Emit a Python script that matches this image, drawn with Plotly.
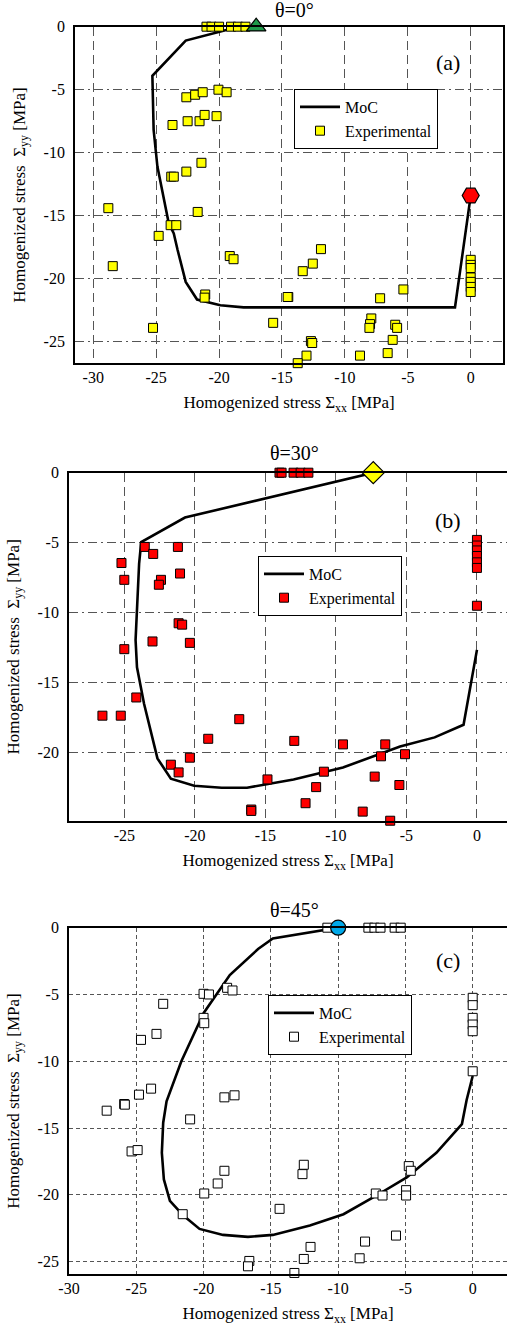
import plotly.graph_objects as go

W, H = 507, 1332

# ---------------- Panel (a) theta = 0 ----------------
a_moc_x = [-17.1, -19.2, -22.65, -25.3, -25.2, -24.9, -24.0, -23.6, -23.3, -22.65, -21.75, -19.9, -18.05, -1.25, 0.0]
a_moc_y = [0.0, -0.2, -1.1, -3.9, -8.2, -11.1, -15.6, -16.4, -17.7, -20.25, -21.65, -22.1, -22.27, -22.27, -13.4]
a_exp_x = [-21.0, -20.6, -20.0, -19.05, -18.5, -17.9,
           -22.6, -21.9, -21.3, -20.05, -19.4,
           -23.7, -22.5, -21.55, -21.15, -20.2,
           -23.8, -23.6, -22.6, -21.4,
           -28.8, -21.7, -23.85, -23.4,
           -24.8, -28.45, -19.15, -18.85,
           -11.9, -12.55, -13.35,
           -21.1, -21.15, -14.5, -14.55,
           -15.7, -7.2, -5.35,
           -7.9, -8.0, -8.05, -6.0, -5.85,
           -6.2, -6.6, -8.8,
           -12.7, -12.6, -13.05, -13.75, -25.25,
           0.0, 0.0, 0.0, 0.0, 0.0, 0.0, 0.0]
a_exp_y = [0.0, 0.0, 0.0, 0.0, 0.0, 0.0,
           -5.6, -5.4, -5.2, -5.0, -5.2,
           -7.8, -7.5, -7.5, -7.0, -7.1,
           -11.9, -11.9, -11.5, -10.8,
           -14.4, -14.7, -15.75, -15.75,
           -16.6, -19.0, -18.2, -18.45,
           -17.65, -18.8, -19.4,
           -21.25, -21.5, -21.45, -21.45,
           -23.5, -21.55, -20.85,
           -23.15, -23.6, -23.9, -23.65, -23.9,
           -24.85, -25.9, -26.1,
           -24.95, -25.1, -26.1, -26.7, -23.9,
           -18.5, -18.9, -19.15, -19.9, -20.25, -20.65, -21.05]
a_start = (-17.05, 0.0)
a_end = (0.0, -13.4)

# ---------------- Panel (b) theta = 30 ----------------
b_moc_x = [-7.33, -20.7, -23.8, -23.95, -24.2, -24.1, -23.6, -22.65, -21.7, -20.05, -18.1, -16.3, -13.0, -9.5, -5.45, -3.0, -0.95, -0.5, 0.0]
b_moc_y = [0.0, -3.2, -4.95, -6.5, -11.95, -13.9, -16.5, -20.4, -21.85, -22.35, -22.5, -22.5, -21.9, -21.05, -19.55, -18.9, -18.0, -15.5, -12.65]
b_exp_x = [-14.0, -13.85, -13.0, -12.5, -11.95,
           -23.55, -22.95, -21.2, -25.2, -25.0,
           -22.4, -22.55, -21.05, -21.15, -20.9,
           -23.0, -20.35, -25.0,
           -24.15, -26.55, -25.25, -16.85, -19.05,
           -12.95, -9.5, -6.5, -6.8, -5.1,
           -20.35, -21.7, -21.15, -10.85, -14.85,
           -7.25, -11.4, -5.5, -12.15, -16.0,
           -16.0, -8.1, -6.15,
           0.0, 0.0, 0.0, 0.0, 0.0, 0.0, 0.0]
b_exp_y = [0.0, 0.0, 0.0, 0.0, 0.0,
           -5.3, -5.8, -5.3, -6.45, -7.65,
           -7.65, -8.0, -7.2, -10.75, -10.85,
           -12.05, -12.15, -12.6,
           -16.05, -17.35, -17.35, -17.6, -19.0,
           -19.15, -19.4, -19.4, -20.25, -20.1,
           -20.35, -20.85, -21.4, -21.35, -21.9,
           -21.7, -22.45, -22.3, -23.6, -24.05,
           -24.15, -24.2, -24.85,
           -4.8, -5.2, -5.55, -5.95, -6.4, -6.8, -9.5]
b_start = (-7.35, 0.0)

# ---------------- Panel (c) theta = 45 ----------------
c_moc_x = [-10.0, -14.85, -15.95, -18.05, -20.0, -21.65, -22.75, -23.0, -23.1, -22.95, -22.5, -21.5, -20.3, -18.55, -16.7, -14.85, -12.1, -9.6, -7.4, -4.9, -2.7, -0.8, -0.45, 0.0]
c_moc_y = [0.0, -0.8, -1.6, -3.55, -6.4, -10.0, -13.0, -14.6, -16.85, -18.85, -20.45, -21.55, -22.55, -23.0, -23.15, -23.0, -22.3, -21.45, -20.2, -18.7, -16.85, -14.7, -12.9, -11.1]
c_exp_x = [-10.8, -7.75, -7.3, -6.85, -5.8, -5.35,
           -23.0, -20.0, -19.6, -18.25, -17.85,
           -20.0, -19.95, -24.65, -23.5,
           -24.8, -23.9, -25.9, -25.85, -27.2,
           -21.0, -18.45, -17.7,
           -25.35, -24.9, -18.45, -18.95, -19.95,
           -21.55, -12.55, -12.65, -14.35,
           -7.2, -6.7, -4.95, -4.95, -4.75, -4.6,
           -5.7, -8.0, -8.4, -12.05, -12.55,
           -13.25, -16.6, -16.7,
           0.0, 0.0, 0.0, 0.0, 0.0, 0.0]
c_exp_y = [0.0, 0.0, 0.0, 0.0, 0.0, 0.0,
           -5.7, -4.95, -5.0, -4.5, -4.7,
           -6.75, -7.15, -8.4, -7.95,
           -12.5, -12.05, -13.2, -13.25, -13.7,
           -14.35, -12.7, -12.55,
           -16.75, -16.65, -18.2, -19.15, -19.9,
           -21.45, -17.75, -18.45, -21.05,
           -19.9, -20.05, -19.65, -20.05, -17.85, -18.2,
           -23.05, -23.5, -24.75, -23.9, -24.8,
           -25.85, -24.95, -25.35,
           -5.25, -5.8, -6.75, -7.25, -7.75, -10.75]
c_start = (-10.0, 0.0)

x_ticks = [-30, -25, -20, -15, -10, -5, 0]
y_ticks = [0, -5, -10, -15, -20, -25]
titles = ["θ=0°", "θ=30°", "θ=45°"]
labels = ["(a)", "(b)", "(c)"]
xtitle = "Homogenized stress Σ<sub>xx</sub> [MPa]"
ytitle = "Homogenized stress&nbsp; Σ<sub>yy</sub> [MPa]"

FONT = "Liberation Serif, Times New Roman, Times, DejaVu Serif, serif"


def px(x):
    return x / W


def py(y):
    return 1 - y / H


fig = go.Figure()

# panel geometry in pixels: (left, right, top, bottom)
geo = [(75, 503.3, 26.7, 363.3), (69, 507, 472.7, 821.0), (69, 507, 927.7, 1274.3)]
xr = [[-31.45, 2.59], [-28.92, 2.13], [-30.0, 2.55]]
yr = [[-26.71, 0.0], [-24.87, 0.0], [-25.95, 0.0]]
xdash = ["9px,5px", "9px,5px", "4px,3px"]
ydash = ["9px,4px,2px,4px", "9px,4px,2px,4px", "4px,3px"]
ymirror = [True, False, False]

panels = [
    (a_moc_x, a_moc_y, a_exp_x, a_exp_y, "#ffff00"),
    (b_moc_x, b_moc_y, b_exp_x, b_exp_y, "#ff0000"),
    (c_moc_x, c_moc_y, c_exp_x, c_exp_y, "#ffffff"),
]
legend_pos = [(294, 89), (258, 556), (268, 995)]
legend_names = ["legend", "legend2", "legend3"]

for i, (mx, my, ex, ey, col) in enumerate(panels):
    xa = "x" if i == 0 else f"x{i+1}"
    ya = "y" if i == 0 else f"y{i+1}"
    lg = legend_names[i]
    fig.add_trace(go.Scatter(x=mx, y=my, mode="lines", name="MoC",
                             line=dict(color="black", width=2.6),
                             xaxis=xa, yaxis=ya, legend=lg, cliponaxis=False))
    fig.add_trace(go.Scatter(x=ex, y=ey, mode="markers", name="Experimental",
                             marker=dict(symbol="square", size=9, color=col,
                                         line=dict(color="black", width=1)),
                             xaxis=xa, yaxis=ya, legend=lg, cliponaxis=False))

# special markers
fig.add_trace(go.Scatter(x=[a_start[0]], y=[a_start[1]], mode="markers", showlegend=False,
                         marker=dict(symbol="triangle-up", size=17, color="#1f9a4a",
                                     line=dict(color="black", width=1.2)),
                         xaxis="x", yaxis="y", cliponaxis=False))
fig.add_trace(go.Scatter(x=[a_end[0]], y=[a_end[1]], mode="markers", showlegend=False,
                         marker=dict(symbol="hexagon2", size=17, color="#ff0000",
                                     line=dict(color="black", width=1.2)),
                         xaxis="x", yaxis="y", cliponaxis=False))
fig.add_trace(go.Scatter(x=[b_start[0]], y=[b_start[1]], mode="markers", showlegend=False,
                         marker=dict(symbol="diamond", size=17, color="#ffff00",
                                     line=dict(color="black", width=1.2)),
                         xaxis="x2", yaxis="y2", cliponaxis=False))
fig.add_trace(go.Scatter(x=[c_start[0]], y=[c_start[1]], mode="markers", showlegend=False,
                         marker=dict(symbol="circle", size=15, color="#00a8e8",
                                     line=dict(color="black", width=1.2)),
                         xaxis="x3", yaxis="y3", cliponaxis=False))

layout = dict(
    width=W, height=H,
    margin=dict(l=0, r=0, t=0, b=0),
    paper_bgcolor="white", plot_bgcolor="white",
    font=dict(family=FONT, size=16, color="black"),
)

annotations = []
for i in range(3):
    L, R, T, B = geo[i]
    sx = "" if i == 0 else str(i + 1)
    layout["xaxis" + sx] = dict(
        domain=[px(L), px(R)], range=xr[i], anchor="y" + sx,
        tickvals=x_ticks, ticktext=[str(v) for v in x_ticks],
        showgrid=True, gridcolor="#555", gridwidth=1, griddash=xdash[i],
        showline=True, linecolor="black", linewidth=1.8, mirror=True,
        zeroline=False, ticks="", ticklabelstandoff=-1,
        tickfont=dict(family=FONT, size=16), automargin=False,
        title=dict(text=xtitle, font=dict(family=FONT, size=17), standoff=11),
    )
    layout["yaxis" + sx] = dict(
        domain=[py(B), py(T)], range=yr[i], anchor="x" + sx,
        tickvals=y_ticks, ticktext=[str(v) for v in y_ticks],
        showgrid=True, gridcolor="#555", gridwidth=1, griddash=ydash[i],
        showline=True, linecolor="black", linewidth=1.8, mirror=ymirror[i],
        zeroline=False, ticks="", ticklabelstandoff=5,
        tickfont=dict(family=FONT, size=16), automargin=False,
        title=dict(text=ytitle, font=dict(family=FONT, size=17), standoff=14),
    )
    lx, ly = legend_pos[i]
    layout[legend_names[i]] = dict(
        x=px(lx), y=py(ly), xanchor="left", yanchor="top",
        bgcolor="white", bordercolor="black", borderwidth=1,
        font=dict(family=FONT, size=16), tracegroupgap=0,
        itemwidth=40,
    )
    annotations.append(dict(text=titles[i], x=px(294), y=py([10, 453, 910][i]),
                            xref="paper", yref="paper", showarrow=False,
                            xanchor="center", yanchor="middle",
                            font=dict(family=FONT, size=20)))
    annotations.append(dict(text=labels[i], x=px(448), y=py([62, 520, 960][i]),
                            xref="paper", yref="paper", showarrow=False,
                            xanchor="center", yanchor="middle",
                            font=dict(family=FONT, size=22)))

layout["annotations"] = annotations
fig.update_layout(**layout)
fig.write_html("out.html")
